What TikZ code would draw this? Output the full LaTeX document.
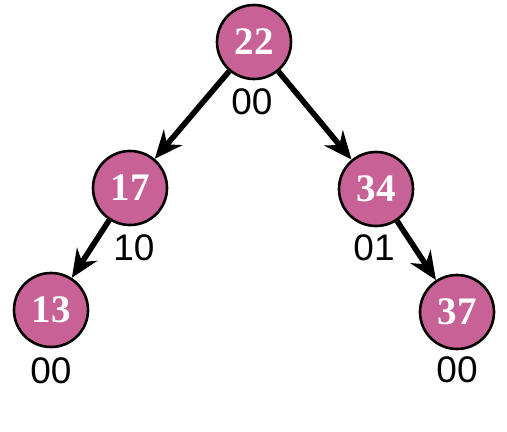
\documentclass[tikz,border=0pt]{standalone}
\usepackage{fontspec}
\setmainfont{Liberation Sans}
\newfontfamily\keyfont{Liberation Serif}
\usepackage{xcolor}
\usetikzlibrary{arrows.meta}
\definecolor{keypink}{RGB}{200,98,150}

\begin{document}
\begin{tikzpicture}[x=0.5pt, y=-0.5pt,
  key/.style={circle, draw=black, line width=1.3pt, fill=keypink,
              minimum size=37pt, inner sep=0pt, text=white,
              font=\keyfont\bfseries\fontsize{19.5}{19.5}\selectfont},
  bal/.style={font=\fontsize{18.5}{18.5}\selectfont, inner sep=0pt},
  arr/.style={-{Stealth[length=14pt,width=12pt]}, line width=2.8pt},
]
\useasboundingbox (0,0) rectangle (507,432);

% keys
\node[key] (k22) at (254,42)  {22};
\node[key] (k17) at (130,188) {17};
\node[key] (k34) at (376,189) {34};
\node[key] (k13) at (51,310)  {13};
\node[key] (k37) at (457,312) {37};

% balance bits
\node[bal] (b22) at (252,102) {00};
\node[bal] (b17) at (134,248) {10};
\node[bal] (b34) at (374,248) {01};
\node[bal] (b13) at (51,371)  {00};
\node[bal] (b37) at (457,370) {00};

\draw[arr] (k22) -- (k17);
\draw[arr] (k22) -- (k34);
\draw[arr] (k17) -- (k13);
\draw[arr] (k34) -- (k37);
\end{tikzpicture}
\end{document}
